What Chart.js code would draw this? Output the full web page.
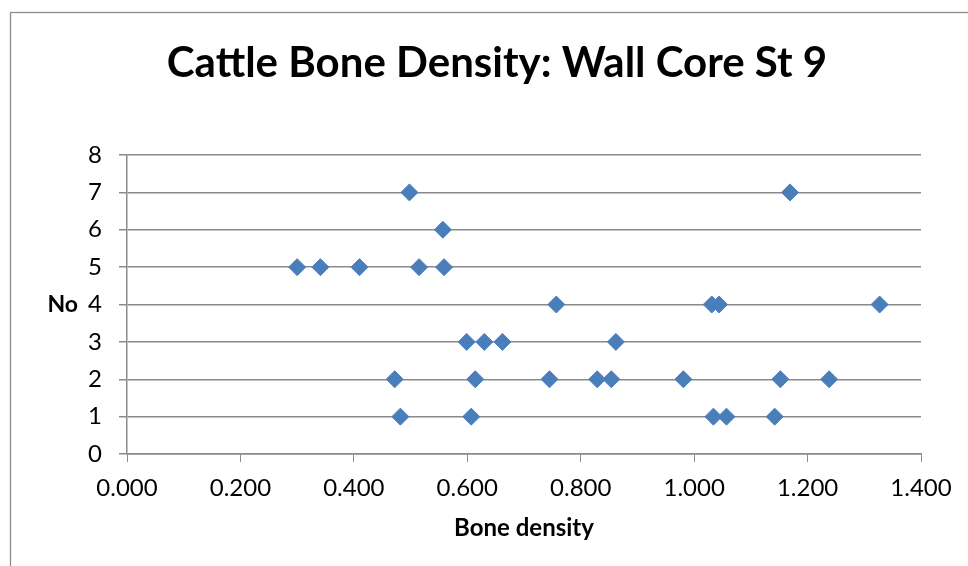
<!DOCTYPE html>
<html>
<head>
<meta charset="utf-8">
<script src="https://cdn.jsdelivr.net/npm/chart.js@4"></script>
<style>
  html, body { margin: 0; padding: 0; background: #ffffff; }
  #wrap { width: 968px; height: 566px; }
</style>
</head>
<body>
<div id="wrap"><canvas id="chart"></canvas></div>
<script>
// values
density = [0.498, 1.169, 0.557, 0.300, 0.341, 0.410, 0.515, 0.559,
           0.757, 1.031, 1.044, 1.327, 0.599, 0.630, 0.662, 0.862,
           0.472, 0.614, 0.745, 0.829, 0.854, 0.981, 1.152, 1.238,
           0.482, 0.607, 1.034, 1.057, 1.142]
no = [7, 7, 6, 5, 5, 5, 5, 5,
      4, 4, 4, 4, 3, 3, 3, 3,
      2, 2, 2, 2, 2, 2, 2, 2,
      1, 1, 1, 1, 1]
title = 'Cattle Bone Density: Wall Core St 9'
xTitle = 'Bone density'
yTitle = 'No'

points = []
for (let i = 0; i < density.length; i++) {
    points.push({ x: density[i], y: no[i] })
}

FONT = 'Lato, "Liberation Sans", sans-serif'
GRID = '#8a8a8a'

// frame round the chart + the horizontal "No" label
framePlugin = {
    id: 'frame',
    beforeDraw(chart) {
        const c = chart.ctx
        c.save()
        c.strokeStyle = '#8c8c8c'
        c.lineWidth = 1.3
        c.strokeRect(10.5, 12.5, 1200, 800)
        c.restore()
    },
    afterDraw(chart) {
        const c = chart.ctx
        c.save()
        c.font = 'bold 23px ' + FONT
        c.fillStyle = '#000'
        c.textAlign = 'right'
        c.textBaseline = 'middle'
        c.fillText(yTitle, 78, chart.scales.y.getPixelForValue(4))
        c.restore()
    }
}

new Chart(document.getElementById('chart'), {
    type: 'scatter',
    data: {
        datasets: [{
            label: 'No',
            data: points,
            pointStyle: 'rectRot',
            pointRadius: 8.5,
            pointHoverRadius: 8.5,
            backgroundColor: '#4a7ebb',
            borderColor: '#4a7ebb',
            borderWidth: 1
        }]
    },
    options: {
        responsive: true,
        maintainAspectRatio: false,
        animation: false,
        layout: { padding: { left: 26, right: 0, top: 0, bottom: 0 } },
        plugins: {
            legend: { display: false },
            tooltip: { enabled: false },
            title: {
                display: true,
                text: title,
                color: '#000',
                font: { family: FONT, size: 42, weight: 'bold' },
                padding: { top: 38, bottom: 66.6 }
            }
        },
        scales: {
            x: {
                type: 'linear',
                min: 0,
                max: 1.4,
                afterFit: function (s) { s.height = 112; s.paddingRight = 47 },
                ticks: {
                    stepSize: 0.2,
                    padding: 12,
                    color: '#000',
                    font: { family: FONT, size: 24 },
                    callback: function (v) { return v.toFixed(3) }
                },
                grid: { drawOnChartArea: false, drawTicks: true, tickLength: 8, color: GRID },
                border: { color: GRID, width: 1.5 },
                title: {
                    display: true,
                    text: xTitle,
                    color: '#000',
                    font: { family: FONT, size: 24, weight: 'bold' },
                    padding: { top: 0, bottom: 23 }
                }
            },
            y: {
                min: 0,
                max: 8,
                afterFit: function (s) { s.width = 101 },
                ticks: {
                    stepSize: 1,
                    padding: 17,
                    color: '#000',
                    font: { family: FONT, size: 24 }
                },
                grid: { color: GRID, lineWidth: 1.5, tickLength: 8 },
                border: { color: GRID, width: 1.5 }
            }
        }
    },
    plugins: [framePlugin]
});
</script>
</body>
</html>
